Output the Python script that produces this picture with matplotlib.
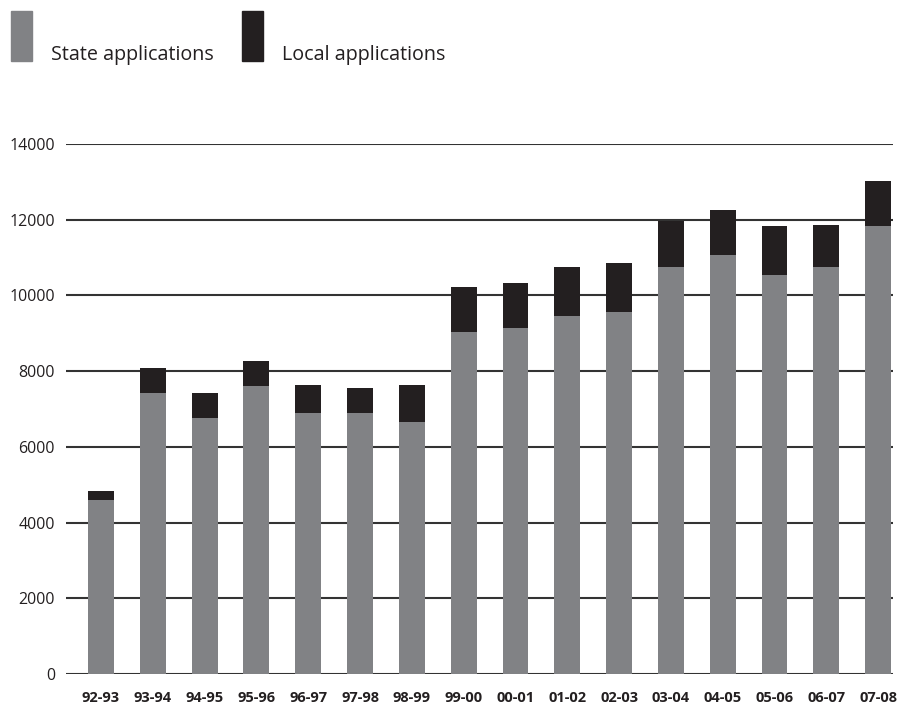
import matplotlib.pyplot as plt
from matplotlib.patches import Rectangle

# fiscal years and application counts
years = ["92-93", "93-94", "94-95", "95-96", "96-97", "97-98", "98-99", "99-00",
         "00-01", "01-02", "02-03", "03-04", "04-05", "05-06", "06-07", "07-08"]
state = [4600, 7430, 6760, 7610, 6890, 6890, 6650, 9030,
         9140, 9460, 9560, 10750, 11070, 10540, 10750, 11830]
total = [4830, 8080, 7420, 8270, 7630, 7550, 7630, 10220,
         10330, 10750, 10860, 11970, 12260, 11830, 11860, 13020]
local = [t - s for t, s in zip(total, state)]

gray = "#818285"
dark = "#231f20"
plt.rcParams["font.family"] = ["Open Sans", "DejaVu Sans"]

fig = plt.figure(figsize=(9.14, 7.06), dpi=100)
ax = fig.add_axes([0.0722, 0.0453, 0.905, 0.7507])

x = range(len(years))
ax.bar(x, state, width=0.5, color=gray, zorder=3)
ax.bar(x, local, bottom=state, width=0.5, color=dark, zorder=3)

ax.set_ylim(0, 14000)
ax.set_xlim(-0.675, 15.29)
ax.set_yticks(range(0, 14001, 2000))
ax.set_xticks(list(x))
ax.set_xticklabels(years, fontweight="bold", fontsize=10.5, color="#231f20")
ax.tick_params(axis="y", length=0, pad=8, labelsize=11.5, labelcolor="#231f20")
ax.tick_params(axis="x", length=0, pad=12)
ax.yaxis.grid(True, color="#333333", linewidth=1.5, zorder=1)
for s in ax.spines.values():
    s.set_visible(False)

# legend drawn by hand to match the tall swatches
W, H = 914, 706
for px, c, label in [(11, gray, "State applications"), (242, dark, "Local applications")]:
    fig.patches.append(Rectangle((px / W, 1 - 61 / H), 21 / W, 50 / H,
                                 transform=fig.transFigure, color=c))
    fig.text((px + 40) / W, 1 - 60 / H, label, fontsize=14.2, color="#231f20",
             va="baseline")

fig.savefig("out.png", dpi=100)
